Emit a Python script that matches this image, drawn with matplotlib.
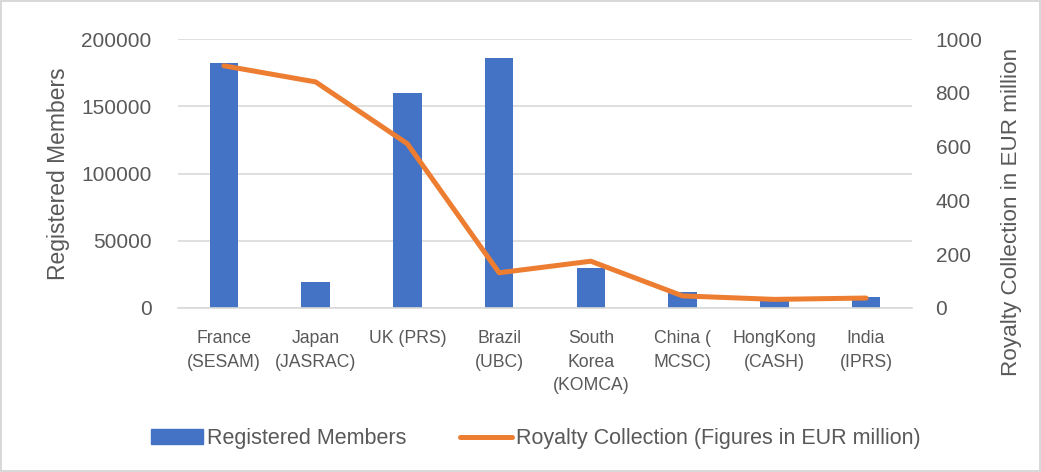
import numpy as np
import matplotlib
matplotlib.use('Agg')
import matplotlib.pyplot as plt
from matplotlib.patches import Patch
from matplotlib.lines import Line2D

# Data
labels = ['France\n(SESAM)', 'Japan\n(JASRAC)', 'UK (PRS)', 'Brazil\n(UBC)',
          'South\nKorea\n(KOMCA)', 'China (\nMCSC)', 'HongKong\n(CASH)', 'India\n(IPRS)']
members = [182000, 19000, 160000, 186000, 29500, 12000, 5000, 8000]
royalty = [901, 841, 611, 131, 174, 45, 32, 37]

blue = '#4472C4'
orange = '#ED7D31'
grey = '#595959'

plt.rcParams['font.family'] = ['Liberation Sans', 'DejaVu Sans']

fig = plt.figure(figsize=(10.41, 4.72), dpi=100)
fig.patch.set_edgecolor('#D9D9D9')
fig.patch.set_linewidth(1.5)
ax = fig.add_axes([0.171, 0.3475, 0.705, 0.5695])
ax2 = ax.twinx()

x = np.arange(len(labels))
ax.bar(x, members, width=0.31, color=blue, zorder=2)
ax2.plot(x, royalty, color=orange, lw=3.6, solid_capstyle='round', zorder=3)

ax.set_xlim(-0.5, len(labels) - 0.5)
ax.set_ylim(0, 200000)
ax2.set_ylim(0, 1000)
ax.set_yticks(np.arange(0, 200001, 50000))
ax2.set_yticks(np.arange(0, 1001, 200))
ax.yaxis.grid(True, color='#D9D9D9', lw=1.2, zorder=0)
ax.set_axisbelow(True)

ax.set_xticks(x)
ax.set_xticklabels(labels, fontsize=12.7, color=grey, linespacing=1.5)
for a in (ax, ax2):
    for s in a.spines.values():
        s.set_visible(False)
    a.tick_params(length=0, labelsize=15, colors=grey)
ax.spines['bottom'].set_visible(True)
ax.spines['bottom'].set_color('#D9D9D9')
ax.spines['bottom'].set_linewidth(1.2)
ax.tick_params(axis='x', labelsize=12.7, pad=16)
ax.tick_params(axis='y', pad=19)
ax2.tick_params(axis='y', pad=17)

ax.set_ylabel('Registered Members', fontsize=16.5, color=grey)
ax.yaxis.set_label_coords(-0.147, 0.5)
ax2.set_ylabel('Royalty Collection in EUR million', fontsize=16.2, color=grey)
ax2.yaxis.set_label_coords(1.122, 0.357)

handles = [Patch(color=blue), Line2D([0], [0], color=orange, lw=3.6, solid_capstyle='round')]
fig.legend(handles, ['Registered Members', 'Royalty Collection (Figures in EUR million)'],
           loc='center', bbox_to_anchor=(0.515, 0.07), ncol=2, frameon=False,
           fontsize=15.5, labelcolor=grey, handlelength=2.4, handletextpad=0.2,
           columnspacing=2.5)

fig.savefig('out.png', dpi=100)
